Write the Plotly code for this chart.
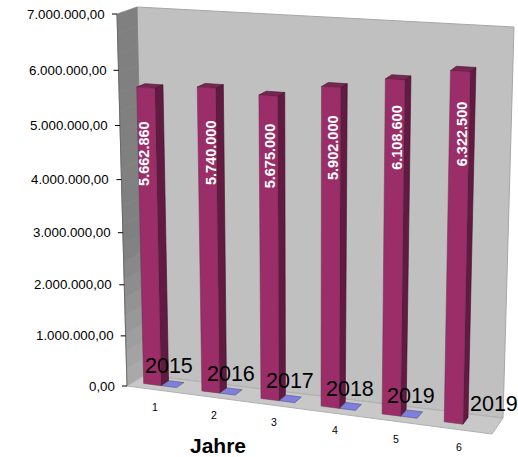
import plotly.graph_objects as go

# ---- data ----
categories = ["1", "2", "3", "4", "5", "6"]
revenue = [5662860, 5740000, 5675000, 5902000, 6108600, 6322500]
revenue_labels = ["5.662.860", "5.740.000", "5.675.000", "5.902.000", "6.108.600", "6.322.500"]
year_series = [2015, 2016, 2017, 2018, 2019, None]
year_labels = ["2015", "2016", "2017", "2018", "2019", "2019"]
y_ticks = [0, 1000000, 2000000, 3000000, 4000000, 5000000, 6000000, 7000000]
y_tick_labels = ["0,00", "1.000.000,00", "2.000.000,00", "3.000.000,00",
                 "4.000.000,00", "5.000.000,00", "6.000.000,00", "7.000.000,00"]
x_title = "Jahre"

# ---- 3D box projected to the page ----
Y_MAX = 7000000
FLB, FLT = (127, 386), (117, 14)
FRB, FRT = (492, 434), (501, 37)
BLB, BLT = (145, 375), (137, 7)
BRB, BRT = (503, 418), (514, 27)
K = 0.07
M = 0.05


def proj(u, v, value):
    w0 = value / Y_MAX
    w = w0 / (1 + K * (1 - w0))
    u = u / (1 + M * (1 - u))
    out = []
    for a in range(2):
        f = (FLB[a] * (1 - u) + FRB[a] * u) * (1 - w) + (FLT[a] * (1 - u) + FRT[a] * u) * w
        b = (BLB[a] * (1 - u) + BRB[a] * u) * (1 - w) + (BLT[a] * (1 - u) + BRT[a] * u) * w
        out.append(f * (1 - v) + b * v)
    return tuple(out)


fig = go.Figure()


def poly(points, fill, line="rgba(0,0,0,0)", width=0.6):
    fig.add_trace(go.Scatter(
        x=[p[0] for p in points] + [points[0][0]],
        y=[p[1] for p in points] + [points[0][1]],
        mode="lines", fill="toself", fillcolor=fill,
        line=dict(color=line, width=width), hoverinfo="skip", showlegend=False))


# walls and floor
poly([proj(0, 1, 0), proj(1, 1, 0), proj(1, 1, Y_MAX), proj(0, 1, Y_MAX)], "#C0C0C0", "#A6A6A6", 1)
n_grad = 20
for i in range(n_grad):
    z0, z1 = Y_MAX * i / n_grad, Y_MAX * (i + 1) / n_grad
    t = min(1.0, ((i + 0.5) / n_grad) / 0.4)
    g = int(172 - 44 * t)
    col = f"rgb({g},{g},{g})"
    poly([proj(0, 0, z0), proj(0, 1, z0), proj(0, 1, z1), proj(0, 0, z1)], col, col, 0.7)
poly([proj(0, 0, 0), proj(1, 0, 0), proj(1, 1, 0), proj(0, 1, 0)], "#C8C8C8", "#B0B0B0", 1)

# axis line and ticks
fig.add_trace(go.Scatter(
    x=[proj(0, 0, 0)[0], proj(0, 0, Y_MAX)[0]], y=[proj(0, 0, 0)[1], proj(0, 0, Y_MAX)[1]],
    mode="lines", line=dict(color="#6A6A6A", width=1), hoverinfo="skip", showlegend=False))
for t in y_ticks:
    p = proj(0, 0, t)
    fig.add_trace(go.Scatter(x=[p[0] - 5, p[0]], y=[p[1], p[1]], mode="lines",
                             line=dict(color="#000000", width=1), hoverinfo="skip", showlegend=False))

# bars
n = len(categories)
V0, V1 = 0.35, 0.78
BW = 0.05
OFF = 0.33


def box(i, value, front, side, top):
    u0 = (i + OFF) / n - BW / 2
    u1 = u0 + BW
    poly([proj(u1, V0, 0), proj(u1, V1, 0), proj(u1, V1, value), proj(u1, V0, value)], side, "#3A1026")
    poly([proj(u0, V0, value), proj(u1, V0, value), proj(u1, V1, value), proj(u0, V1, value)], top, "#3A1026")
    poly([proj(u0, V0, 0), proj(u1, V0, 0), proj(u1, V0, value), proj(u0, V0, value)], front, "#6A3050", 0.5)


for i, val in enumerate(revenue):
    box(i, val, "#9B2E68", "#631A42", "#7A2452")
for i, val in enumerate(year_series):
    if val is not None:
        u0 = (i + OFF) / n + BW / 2 + 0.002
        u1 = u0 + BW * 0.85
        poly([proj(u0, V0, val), proj(u1, V0, val), proj(u1, V1, val), proj(u0, V1, val)], "#7F7FE0", "#555577")

annotations = []


def label(x, y, text, size, color="#000000", angle=0, bold=False, xanchor="center"):
    annotations.append(dict(x=x, y=y, xref="x", yref="y", text=f"<b>{text}</b>" if bold else text,
                            showarrow=False, textangle=angle, xanchor=xanchor, yanchor="middle",
                            font=dict(family="Liberation Sans", size=size, color=color)))


for t, s in zip(y_ticks, y_tick_labels):
    p = proj(0, 0, t)
    label(p[0] - 10, p[1], s, 13.3, xanchor="right")
for i, s in enumerate(categories):
    p = proj((i + 0.5) / n, 0, 0)
    label(p[0] - 1, p[1] + 17, s, 10.5)
label_drop_px = [66, 65, 60, 60, 58, 62]
label_dx = [-3, 3, 1, 2, 2, 3]
for i, (val, s) in enumerate(zip(revenue, revenue_labels)):
    top = proj((i + OFF) / n, V0, val)
    mid = proj((i + OFF) / n, V0, val - 1200000)
    label(mid[0] + label_dx[i], top[1] + label_drop_px[i], s, 14.5, "#FFFFFF", angle=-90, bold=True)
year_dx = [-4, -1, -1, -1, -2, 19]
for i, s in enumerate(year_labels):
    p = proj((i + OFF) / n + BW, (V0 + V1) / 2, 0)
    label(p[0] + year_dx[i], p[1] - 18, s, 21.5)
label(218, 445, x_title, 21, bold=True)

fig.update_layout(
    width=518, height=457, margin=dict(l=0, r=0, t=0, b=0),
    paper_bgcolor="white", plot_bgcolor="white", showlegend=False,
    xaxis=dict(range=[0, 518], visible=False, fixedrange=True),
    yaxis=dict(range=[457, 0], visible=False, fixedrange=True),
    annotations=annotations)
fig.write_html("out.html", config={"displayModeBar": False},
               post_script="document.body.style.margin='0';document.body.style.overflow='hidden';")
